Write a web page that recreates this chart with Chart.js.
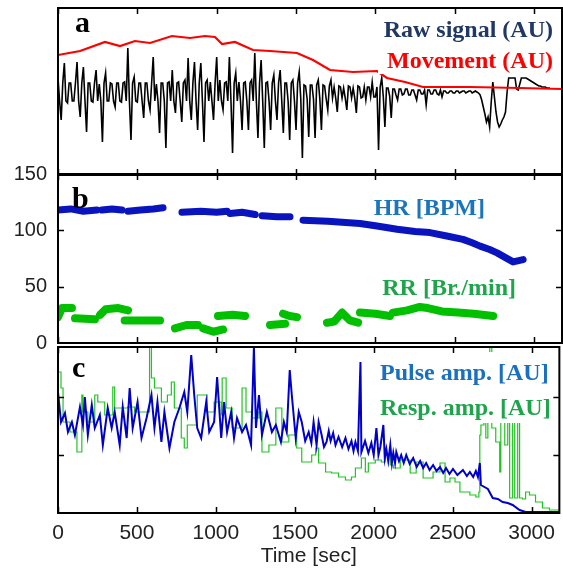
<!DOCTYPE html>
<html>
<head>
<meta charset="utf-8">
<script src="https://cdn.jsdelivr.net/npm/chart.js@4.4.1/dist/chart.umd.min.js"></script>
<style>
  body { margin: 0; background: #fff; }
  #wrap { position: relative; width: 563px; height: 569px; overflow: hidden; background: #fff; }
  canvas { position: absolute; left: 0; }
</style>
</head>
<body>
<div id="wrap">
  <canvas id="pa" width="563" height="176" style="top:0px"></canvas>
  <canvas id="pb" width="563" height="215" style="top:151px"></canvas>
  <canvas id="pc" width="563" height="229" style="top:340px"></canvas>
</div>
<script>
// time axis (sec)
const xMax = 3176;
const xTicks = [0, 500, 1000, 1500, 2000, 2500, 3000];

// a: raw signal, one sample every 10 s
const rawStep = 10;
const rawV = [
  14, -9, -28, 9, 29, -9, -11, 9, 9, -9, -9, 9, 30, -9, -25, 9, 25, -9, -40, 9,
  9, -9, -10, 9, 22, -9, 8, -9, -50, 9, 19, -9, -9, 9, 8, -9, -15, 9, 9, -9,
  -10, 9, 10, -9, 44, -9, -48, 9, 15, -9, -10, 9, 9, -9, -26, 9, 9, -9, -18, 9,
  35, -9, 8, -9, -41, 9, 9, -9, -56, 9, 10, -9, 22, -9, -21, 9, 10, -9, -30, 9,
  12, -9, 34, -9, -28, 9, 30, -9, -38, 9, 29, -9, -50, 9, 12, -9, 10, -9, -28, 9,
  35, -9, 12, -9, -18, 9, 10, -9, 35, -9, -61, 9, 19, -9, 10, -9, -38, 9, 10, -9,
  -38, 9, 12, -9, 39, -9, -46, 9, 32, -9, -56, 9, 10, -9, -38, 9, 17, -9, -28, 9,
  22, -9, -41, 9, 9, -9, -48, 9, 12, -9, -38, 9, 20, -7, -66, 7, 6, -7, -45, 7,
  7, -7, -46, 7, 12, -7, -38, 7, 6, -7, -18, 6, 12, -6, 5, -6, -20, 6, 5, -6,
  4, -6, -18, 6, 5, -6, 4, -6, -21, 6, 5, -6, -5, 5, -8, 5, 5, -5, 10, -5,
  -5, 5, -58, 5, 14, -5, -35, 4, 4, -4, -26, 3, 3, -3, -8, 3, 3, -3, -2, 3,
  3, -3, -3, 2, 2, -3, -8, 2, 2, -2, -2, 2, -13, 2, 2, -2, -2, 2, 2, -2,
  -3, 2, -5, 1, 1, -1, -1, 1, 1, -1, -1, 1, 1, -1, 0, 1, 1, -1, 0, 1,
  1, -1, 0, 1, 0, -1, -3, -8, -15, -22, -30, -25, -35, -10, 10, -5, -20, -30, -35, -32,
  -28, -25, -20, 0, 14, 14, 14, 14, 14, 3, 2, 8, 14, 14, 14, 14, 13, 12, 11, 10,
  9, 8, 7, 6, 6, 5, 5, 5, 4, 4, 4];

// a: movement
const moveT = [0, 139, 296, 391, 485, 580, 718, 832, 926, 989, 1034, 1115, 1229, 1336, 1506, 1607, 1714, 1859, 2010, 2073, 2187, 2300, 2596, 2911, 3176];
const moveV = [37, 41, 50, 46, 51, 49, 56, 54, 56, 55, 48, 50, 42, 41, 39, 32, 22, 20, 21, 14, 10, 5, 5, 4, 3];

// b: HR [BPM] and RR [Br./min], null = gap
const hrT = [0, 80, 160, 245, 260, 277, 340, 403, 420, 441, 520, 600, 662, 720, 781, 900, 1000, 1065, 1075, 1084, 1160, 1242, 1265, 1286, 1380, 1462, 1500,
  1544, 1700, 1903, 2000, 2137, 2250, 2344, 2450, 2552, 2610, 2660, 2720, 2767, 2817, 2868, 2931];
const hrV = [118, 119, 117, 118, null, 118, 119, 118, null, 117, 118, 119, 120, null, 116, 117, 116, 117, null, 115, 116, 114, null, 113, 112, 112, null,
  109, 108, 106, 104, 101, 99, 98, 95, 92, 89, 86, 83, 80, 76, 72, 74];
const rrT = [0, 25, 88, 98, 107, 233, 250, 265, 300, 380, 441, 430, 420, 500, 643, 690, 737, 810, 882, 900, 914, 980, 1040, 1020, 1008, 1100, 1179, 1250,
  1336, 1431, 1425, 1418, 1460, 1506, 1600, 1695, 1740, 1790, 1840, 1891, 1897, 1903, 2000, 2092, 2100, 2111, 2200, 2280, 2330, 2420, 2520, 2620, 2742];
const rrV = [23, 31, 31, null, 22, 21, null, 25, 30, 31, 29, null, 20, 20, 20, null, 13, 16, 16, null, 13, 10, 12, null, 24, 25, 24, null,
  16, 17, null, 26, 24, 23, null, 18, 19, 27, 20, 18, null, 27, 26, 24, null, 27, 29, 32, 31, 28, 27, 26, 24];

// c: pulse amplitude and respiration amplitude [AU]
const pulseT = [0, 19, 44, 63, 88, 107, 139, 158, 170, 189, 214, 233, 265, 284, 315, 340, 359, 391, 410, 435, 454, 473, 504, 529, 561, 592, 611, 630, 655, 674,
  706, 737, 769, 800, 819, 844, 863, 882, 907, 939, 958, 989, 1008, 1034, 1052, 1071, 1097, 1115, 1134, 1166, 1191, 1223, 1241, 1254, 1273, 1292, 1323, 1355, 1380, 1412,
  1431, 1449, 1468, 1481, 1506, 1525, 1544, 1566, 1588, 1605, 1619, 1638, 1651, 1670, 1685, 1701, 1715, 1727, 1743, 1758, 1777, 1800, 1821, 1840, 1859, 1872, 1884, 1900, 1916, 1922,
  1945, 1966, 1985, 2000, 2017, 2030, 2042, 2061, 2070, 2080, 2092, 2105, 2115, 2124, 2135, 2143, 2160, 2174, 2190, 2206, 2228, 2250, 2272, 2294, 2313, 2332, 2354, 2376, 2398, 2420,
  2440, 2458, 2480, 2502, 2530, 2565, 2590, 2609, 2630, 2647, 2660, 2672, 2679, 2723, 2754, 2786, 2817, 2849, 2880, 2924, 2962, 3176];
const pulseV = [121, 91, 100, 81, 91, 78, 106, 88, 116, 78, 108, 85, 98, 68, 105, 85, 101, 68, 106, 75, 125, 85, 111, 75, 95, 118, 85, 111, 71, 101,
  65, 91, 105, 121, 101, 158, 118, 85, 75, 111, 81, 91, 136, 75, 111, 81, 101, 75, 95, 81, 88, 68, 166, 85, 118, 78, 101, 81, 88, 71,
  91, 81, 143, 118, 75, 101, 91, 72, 81, 70, 91, 68, 91, 78, 66, 71, 82, 72, 80, 68, 76, 66, 75, 64, 72, 62, 71, 62, 151, 61,
  72, 60, 70, 58, 85, 58, 66, 88, 55, 64, 52, 68, 50, 60, 50, 61, 52, 58, 50, 58, 49, 55, 46, 52, 45, 50, 43, 48, 42, 46,
  40, 45, 39, 44, 38, 43, 37, 41, 36, 42, 36, 50, 28, 24, 15, 14, 11, 10, 8, 3, 1, 1];
const respT = [0, 19, 32, 76, 120, 151, 158, 189, 233, 252, 296, 347, 359, 403, 441, 485, 580, 592, 611, 655, 693, 718, 737, 781, 800, 819, 882, 945, 989, 1034,
  1040, 1065, 1103, 1166, 1191, 1229, 1273, 1292, 1336, 1380, 1418, 1462, 1512, 1544, 1607, 1632, 1651, 1695, 1733, 1777, 1821, 1859, 1884, 1922, 1947, 1966, 2010, 2048, 2073, 2105,
  2124, 2168, 2231, 2269, 2313, 2376, 2420, 2452, 2483, 2515, 2546, 2609, 2647, 2666, 2672, 2679, 2698, 2710, 2723, 2735, 2748, 2773, 2798, 2805, 2830, 2849, 2861, 2880, 2893, 2912,
  2924, 2943, 2962, 2987, 3025, 3069, 3113, 3176];
const respV = [141, 125, 91, 81, 61, 118, 101, 91, 118, 111, 98, 126, 105, 105, 106, 101, 166, 135, 125, 111, 118, 131, 105, 75, 65, 88, 118, 101, 111, 98,
  135, 105, 85, 125, 101, 95, 101, 61, 68, 105, 71, 78, 65, 51, 58, 65, 50, 41, 40, 36, 33, 36, 45, 55, 41, 50, 53, 51, 58, 48,
  45, 53, 40, 51, 35, 41, 50, 31, 35, 31, 21, 18, 16, 21, 78, 88, 100, 75, 95, 166, 85, 71, 41, 110, 68, 110, 15, 110, 15, 110,
  15, 14, 21, 18, 11, 5, 3, 1];

const zip = (ts, vs) => ts.map((t, i) => ({ x: t, y: vs[i] }));

const serif = '"Liberation Serif", "Times New Roman", serif';
const sans = '"Liberation Sans", Arial, sans-serif';

// frame, inward ticks and in-plot labels
const decor = {
  id: 'decor',
  afterDraw(chart, args, o) {
    const { ctx, chartArea: a, scales } = chart;
    ctx.save();
    (o.boxes || []).forEach(b => {
      ctx.fillStyle = '#fff';
      ctx.fillRect(b[0], b[1], b[2], b[3]);
    });
    (o.notes || []).forEach(n => {
      ctx.font = n.font || ('bold 24px ' + serif);
      ctx.fillStyle = n.color;
      ctx.textAlign = n.align || 'left';
      ctx.textBaseline = 'alphabetic';
      ctx.fillText(n.text, n.x, n.y);
    });
    ctx.strokeStyle = '#000';
    ctx.lineWidth = 1.5;
    ctx.beginPath();
    xTicks.forEach(v => {
      const px = Math.round(scales.x.getPixelForValue(v)) + 0.5;
      ctx.moveTo(px, a.top); ctx.lineTo(px, a.top + 6);
      ctx.moveTo(px, a.bottom); ctx.lineTo(px, a.bottom - 6);
    });
    (o.yTicks || []).forEach(v => {
      const py = Math.round(scales.y.getPixelForValue(v)) + 0.5;
      ctx.moveTo(a.left, py); ctx.lineTo(a.left + 6, py);
      ctx.moveTo(a.right, py); ctx.lineTo(a.right - 6, py);
    });
    ctx.stroke();
    ctx.lineWidth = 2;
    ctx.strokeRect(a.left, a.top, a.right - a.left, a.bottom - a.top);
    ctx.restore();
  }
};

const hiddenX = { type: 'linear', min: 0, max: xMax, display: false };

function base(datasets, scales, padding, decorOpts) {
  return {
    type: 'line',
    data: { datasets },
    options: {
      responsive: false,
      animation: false,
      events: [],
      layout: { padding },
      elements: { line: { tension: 0 }, point: { radius: 0 } },
      scales,
      plugins: { legend: { display: false }, tooltip: { enabled: false }, decor: decorOpts }
    },
    plugins: [decor]
  };
}

new Chart(document.getElementById('pa'), base([
  { label: 'Movement (AU)', data: zip(moveT, moveV), borderColor: '#ff0000', borderWidth: 2.2 },
  { label: 'Raw signal (AU)', data: rawV.map((v, i) => ({ x: i * rawStep, y: v })), borderColor: '#000', borderWidth: 1.6 }
], {
  x: hiddenX,
  y: { min: -83, max: 84, display: false }
}, { left: 58, top: 8, right: 1, bottom: 1 }, {
  boxes: [[378, 12, 182, 62]],
  notes: [
    { text: 'a', x: 75, y: 32, font: 'bold 30px ' + serif, color: '#000' },
    { text: 'Raw signal (AU)', x: 553, y: 37, color: '#203864', align: 'right' },
    { text: 'Movement (AU)', x: 553, y: 68, color: '#ff0000', align: 'right' }
  ]
}));

new Chart(document.getElementById('pb'), base([
  { label: 'HR [BPM]', data: zip(hrT, hrV), borderColor: '#0a14be', borderWidth: 7, borderCapStyle: 'round', borderJoinStyle: 'round', spanGaps: false },
  { label: 'RR [Br./min]', data: zip(rrT, rrV), borderColor: '#00c000', borderWidth: 8, borderCapStyle: 'round', borderJoinStyle: 'round', spanGaps: false }
], {
  x: hiddenX,
  y: {
    min: 0, max: 150,
    afterFit: s => { s.width = 58; },
    ticks: { stepSize: 50, padding: 11, color: '#222', font: { family: sans, size: 20 } },
    grid: { display: false, drawTicks: false },
    border: { display: false }
  }
}, { left: 0, top: 0, right: 1, bottom: 0 }, {
  yTicks: [50, 100],
  notes: [
    { text: 'b', x: 72, y: 57, font: 'bold 30px ' + serif, color: '#000' },
    { text: 'HR [BPM]', x: 485, y: 64, color: '#1b75bc', align: 'right' },
    { text: 'RR [Br./min]', x: 516, y: 144, color: '#1ea54b', align: 'right' }
  ]
}));

new Chart(document.getElementById('pc'), base([
  { label: 'Pulse amp. [AU]', data: zip(pulseT, pulseV), borderColor: '#0000c8', borderWidth: 2 },
  { label: 'Resp. amp. [AU]', data: zip(respT, respV), borderColor: '#22c422', borderWidth: 1.2, stepped: true }
], {
  x: {
    type: 'linear', min: 0, max: xMax,
    afterBuildTicks: s => { s.ticks = xTicks.map(v => ({ value: v })); },
    afterFit: s => { s.height = 56; },
    ticks: { padding: 8, color: '#222', font: { family: sans, size: 21 }, callback: v => String(v) },
    grid: { display: false, drawTicks: false },
    border: { display: false },
    title: { display: true, text: 'Time [sec]', color: '#222', font: { family: sans, size: 21 }, padding: { top: 0, bottom: 0 } }
  },
  y: { min: 0, max: 166, display: false }
}, { left: 58, top: 7, right: 1, bottom: 0 }, {
  yTicks: [58, 116],
  boxes: [[376, 12, 182, 71]],
  notes: [
    { text: 'c', x: 72, y: 37, font: 'bold 30px ' + serif, color: '#000' },
    { text: 'Pulse amp. [AU]', x: 380, y: 40, color: '#1b6fc0' },
    { text: 'Resp. amp. [AU]', x: 380, y: 75, color: '#1ea54b' }
  ]
}));
</script>
</body>
</html>
